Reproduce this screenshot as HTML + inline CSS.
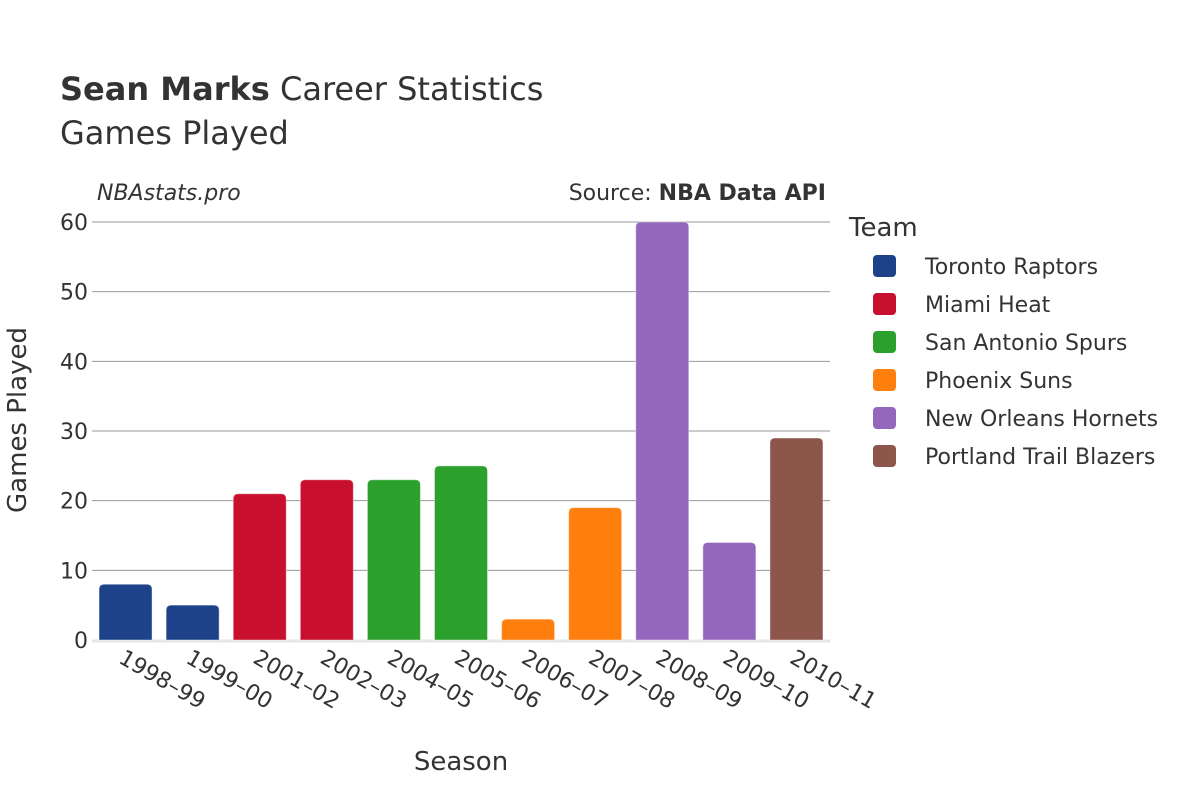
<!DOCTYPE html>
<html><head><meta charset="utf-8"><style>
body{margin:0;background:#fff}
svg text{font-family:"DejaVu Sans","Liberation Sans",sans-serif;fill:#333}
</style></head><body>
<svg id="chart" width="1200" height="800" viewBox="0 0 1200 800">
<text x="60" y="100" font-size="32"><tspan font-weight="bold">Sean Marks</tspan> Career Statistics</text>
<text x="60" y="144" font-size="32">Games Played</text>
<text x="97" y="200" font-size="22" font-style="italic">NBAstats.pro</text>
<text x="826" y="200" font-size="22" text-anchor="end">Source: <tspan font-weight="bold">NBA Data API</tspan></text>
<g id="grid"></g>
<g id="bars"></g>
<g id="xlabels"></g>
<text transform="translate(26,420) rotate(-90)" font-size="26" text-anchor="middle">Games Played</text>
<text x="461" y="770" font-size="26" text-anchor="middle">Season</text>
<text x="849" y="236" font-size="26">Team</text>
<g id="legend"></g>
</svg>
<script>
const seasons=["1998-99","1999-00","2001-02","2002-03","2004-05","2005-06","2006-07","2007-08","2008-09","2009-10","2010-11"];
const games=[8,5,21,23,23,25,3,19,60,14,29];
const teamOf=[0,0,1,1,2,2,3,3,4,4,5];
const teams=["Toronto Raptors","Miami Heat","San Antonio Spurs","Phoenix Suns","New Orleans Hornets","Portland Trail Blazers"];
const colors=["#1d428a","#c8102e","#2ca02c","#ff7f0e","#9467bd","#8c564b"];
const yTicks=[0,10,20,30,40,50,60];
const NS="http://www.w3.org/2000/svg";
const x0=92,x1=830,y0=640,yTop=222,ymax=60;
const band=(x1-x0)/seasons.length;
const y=v=>y0-(v/ymax)*(y0-yTop);
function mk(t,a,p){const e=document.createElementNS(NS,t);for(const k in a)e.setAttribute(k,a[k]);p.appendChild(e);return e;}
const grid=document.getElementById('grid');
yTicks.forEach(t=>{
  if(t>0){const l=mk('line',{x1:x0,x2:x1,y1:y(t),y2:y(t),stroke:'#999','stroke-width':1},grid);
  
  }
  const tx=mk('text',{x:88,y:y(t)+8,'font-size':22,'text-anchor':'end'},grid);
  tx.textContent=t;
  
  
});
const zl=mk('line',{x1:x0,x2:x1,y1:y0+1,y2:y0+1,stroke:'#e6e6e6','stroke-width':3},grid);


const bars=document.getElementById('bars'),xl=document.getElementById('xlabels');
const bw=band*0.79;
seasons.forEach((s,i)=>{
  const cx=x0+band*(i+0.5),top=y(games[i]),h=y0-top,r=Math.min(5,h/2),l=cx-bw/2,rr=cx+bw/2;
  const p=mk('path',{d:`M${l},${y0}V${top+r}Q${l},${top} ${l+r},${top}H${rr-r}Q${rr},${top} ${rr},${top+r}V${y0}Z`,fill:colors[teamOf[i]],stroke:'rgba(255,255,255,0.4)','stroke-width':1},bars);
  
  
  const t=mk('text',{transform:`translate(${cx-8},${y0+22}) rotate(30)`,'font-size':22},xl);
  t.textContent=s.replace('-','–');
  
  
});
const lg=document.getElementById('legend');
teams.forEach((n,i)=>{
  const g=mk('g',{},lg);
  
  
  const yy=266+i*38;
  mk('rect',{x:873,y:yy-11,width:23,height:22,rx:4,fill:colors[i]},g);
  const t=mk('text',{x:925,y:yy+8,'font-size':22},g);t.textContent=n;
});
</script>
</body></html>
